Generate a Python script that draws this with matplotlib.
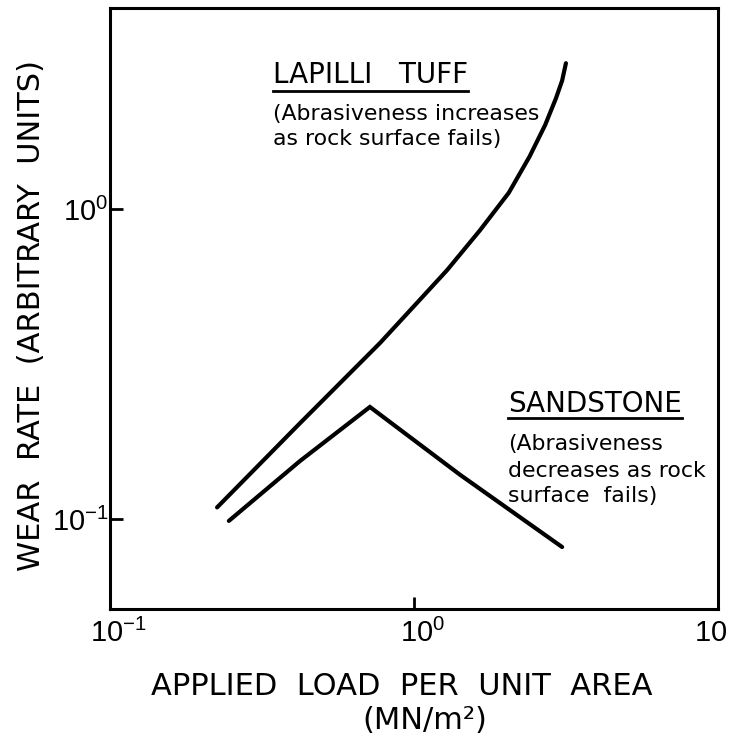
import numpy as np
import matplotlib
matplotlib.use("Agg")
import matplotlib.pyplot as plt
import matplotlib.ticker as ticker
import matplotlib.transforms as mtransforms

plt.rcParams['font.family'] = ['DejaVu Sans']
plt.rcParams['mathtext.fontset'] = 'custom'
plt.rcParams['mathtext.rm'] = 'Liberation Sans'
plt.rcParams['mathtext.it'] = 'Liberation Sans'
plt.rcParams['mathtext.bf'] = 'Liberation Sans'

# curvas (carga MN/m2, tasa de desgaste)
tuff_carga = [0.225, 0.422, 0.773, 0.993, 1.285, 1.648, 2.05, 2.40, 2.70, 2.93, 3.07, 3.16]
tuff_desgaste = [0.109, 0.204, 0.370, 0.483, 0.636, 0.855, 1.13, 1.48, 1.87, 2.28, 2.60, 2.96]

arenisca_carga = [0.246, 0.422, 0.716, 1.416, 3.07]
arenisca_desgaste = [0.0986, 0.154, 0.230, 0.139, 0.0812]

xticks = [0.1, 1, 10]
xlabels = ['$10^{-1}$', '$10^{0}$', '$10$']
yticks = [0.1, 1]
ylabels = ['$10^{-1}$', '$10^{0}$']

fig = plt.figure(figsize=(7.3, 7.45), dpi=100)
ax = fig.add_axes([0.1507, 0.1821, 0.8329, 0.8067])

ax.plot(tuff_carga, tuff_desgaste, color='k', lw=3, solid_capstyle='round',
        solid_joinstyle='round')
ax.plot(arenisca_carga, arenisca_desgaste, color='k', lw=3,
        solid_capstyle='round', solid_joinstyle='miter')

ax.set_xscale('log')
ax.set_yscale('log')
ax.set_xlim(0.1, 10)
ax.set_ylim(0.0511, 4.45)
ax.set_xticks(xticks, xlabels)
ax.set_yticks(yticks, ylabels)
ax.xaxis.set_minor_locator(ticker.NullLocator())
ax.yaxis.set_minor_locator(ticker.NullLocator())
ax.tick_params(axis='both', direction='in', length=9, width=2, labelsize=21)
ax.tick_params(axis='x', pad=7)
ax.tick_params(axis='y', pad=1)
# los exponentes empujan las etiquetas un poco a la derecha
for lab, dx in zip(ax.get_xticklabels(), [8, 9, -7]):
    lab.set_transform(lab.get_transform() +
                      mtransforms.ScaledTranslation(dx / 100, 0, fig.dpi_scale_trans))
for s in ax.spines.values():
    s.set_linewidth(2.2)

# rotulos de las curvas
t1 = ax.text(0.268, 0.875, 'LAPILLI   TUFF', transform=ax.transAxes,
             fontsize=20, va='baseline', ha='left')
ax.text(0.268, 0.815, '(Abrasiveness increases', transform=ax.transAxes,
        fontsize=15.8, va='baseline', ha='left')
ax.text(0.268, 0.772, 'as rock surface fails)', transform=ax.transAxes,
        fontsize=15.8, va='baseline', ha='left')

t2 = ax.text(0.655, 0.328, 'SANDSTONE', transform=ax.transAxes,
             fontsize=20, va='baseline', ha='left')
ax.text(0.655, 0.265, '(Abrasiveness', transform=ax.transAxes,
        fontsize=15.8, va='baseline', ha='left')
ax.text(0.655, 0.220, 'decreases as rock', transform=ax.transAxes,
        fontsize=15.8, va='baseline', ha='left')
ax.text(0.655, 0.178, 'surface  fails)', transform=ax.transAxes,
        fontsize=15.8, va='baseline', ha='left')

fig.text(0.551, 0.0671, 'APPLIED  LOAD  PER  UNIT  AREA', fontsize=22,
         ha='center', va='baseline')
fig.text(0.582, 0.0215, '(MN/m²)', fontsize=22, ha='center', va='baseline')
fig.text(0.0425, 0.577, 'WEAR  RATE  (ARBITRARY  UNITS)', fontsize=22,
         rotation=90, ha='center', va='center')

# subrayado de los titulos
fig.canvas.draw()
r = fig.canvas.get_renderer()
for t, y in [(t1, 0.862), (t2, 0.318)]:
    bb = t.get_window_extent(r).transformed(ax.transAxes.inverted())
    ax.plot([bb.x0, bb.x1], [y, y], transform=ax.transAxes, color='k', lw=2,
            clip_on=False)

fig.savefig('out.png', dpi=100)
